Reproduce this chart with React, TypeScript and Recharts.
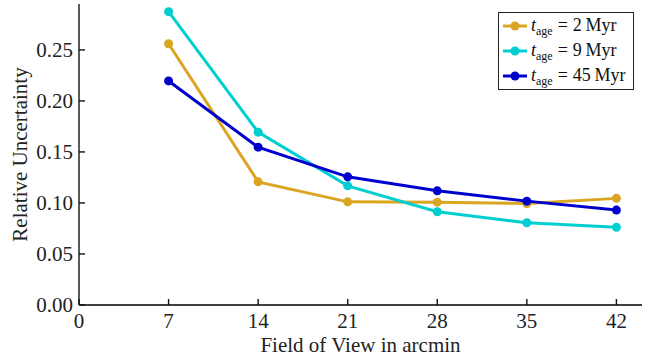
import React from 'react';
import { LineChart, Line, XAxis, YAxis, Legend } from 'recharts';

const fov = [7, 14, 21, 28, 35, 42];
const age2 = [0.256, 0.1207, 0.1011, 0.1008, 0.0995, 0.1045];
const age9 = [0.2875, 0.1694, 0.1168, 0.0914, 0.0806, 0.0761];
const age45 = [0.2196, 0.1547, 0.1256, 0.1119, 0.1018, 0.093];

const xTicks = [0, 7, 14, 21, 28, 35, 42];
const yTicks = [0, 0.05, 0.1, 0.15, 0.2, 0.25];

const seriesInfo = [
  { key: 'age2', age: '2', color: '#DAA520' },
  { key: 'age9', age: '9', color: '#00CED1' },
  { key: 'age45', age: '45', color: '#0000CD' },
];

const data = fov.map((f, i) => ({ fov: f, age2: age2[i], age9: age9[i], age45: age45[i] }));

const FONT = '"Liberation Serif", "DejaVu Serif", serif';
const TICK_LEN = 6;
const TICK_COLOR = '#111';
const TICK_W = 1.4;

const renderLegend = () => (
  <div
    style={{
      border: '1.3px solid #222',
      background: '#fff',
      fontFamily: FONT,
      fontSize: 18,
      color: '#111',
      boxSizing: 'border-box',
      padding: '0 0 1px 4px',
      width: 136,
    }}
  >
    {seriesInfo.map((s) => (
      <div key={s.key} style={{ height: 25, display: 'flex', alignItems: 'center', whiteSpace: 'nowrap' }}>
        <svg width={24} height={12} style={{ flex: 'none' }}>
          <line x1={0} y1={6} x2={24} y2={6} stroke={s.color} strokeWidth={3} />
          <circle cx={12} cy={6} r={4.5} fill={s.color} />
        </svg>
        <span style={{ marginLeft: 4 }}>
          <i>t</i>
          <span style={{ fontSize: 12, position: 'relative', top: 4 }}>age</span>
          <span style={{ margin: '0 5px' }}>=</span>
          <span>{s.age}&thinsp;Myr</span>
        </span>
      </div>
    ))}
  </div>
);

const XTitle = (props: any) => {
  const { viewBox } = props;
  const cx = viewBox.x + viewBox.width / 2;
  return (
    <text x={cx} y={352} textAnchor="middle" fontFamily={FONT} fontSize={21} fill="#222">
      Field of View in arcmin
    </text>
  );
};

const YTitle = (props: any) => {
  const { viewBox } = props;
  const cx = 27;
  const cy = viewBox.y + viewBox.height / 2;
  return (
    <text
      x={cx}
      y={cy}
      transform={`rotate(-90 ${cx} ${cy})`}
      textAnchor="middle"
      fontFamily={FONT}
      fontSize={21}
      fill="#222"
    >
      Relative Uncertainty
    </text>
  );
};

const BottomTick = (props: any) => {
  const { x, y, payload } = props;
  return (
    <g>
      <line x1={x} y1={y} x2={x} y2={y - TICK_LEN} stroke={TICK_COLOR} strokeWidth={TICK_W} />
      <text x={x} y={y + 8} dy="0.71em" textAnchor="middle" fontFamily={FONT} fontSize={21} fill="#222">
        {payload.value}
      </text>
    </g>
  );
};

const TopTick = (props: any) => {
  const { x, y } = props;
  return <line x1={x} y1={y} x2={x} y2={y + TICK_LEN} stroke={TICK_COLOR} strokeWidth={TICK_W} />;
};

const LeftTick = (props: any) => {
  const { x, y, payload } = props;
  return (
    <g>
      <line x1={x} y1={y} x2={x + TICK_LEN} y2={y} stroke={TICK_COLOR} strokeWidth={TICK_W} />
      <text x={x - 6} y={y} dy="0.355em" textAnchor="end" fontFamily={FONT} fontSize={21} fill="#222">
        {Number(payload.value).toFixed(2)}
      </text>
    </g>
  );
};

const RightTick = (props: any) => {
  const { x, y } = props;
  return <line x1={x} y1={y} x2={x - TICK_LEN} y2={y} stroke={TICK_COLOR} strokeWidth={TICK_W} />;
};

export default function App() {
  const axisLineStyle = { stroke: '#000', strokeWidth: 1.3 };
  return (
    <div style={{ position: 'absolute', left: 0, top: 0, width: 662, height: 361, background: '#fff' }}>
      <LineChart width={662} height={361} data={data} margin={{ top: 4, right: 20, bottom: 0, left: 0 }}>
        <XAxis
          xAxisId="bottom"
          dataKey="fov"
          type="number"
          domain={[0, 44]}
          ticks={xTicks}
          height={56}
          tickSize={0}
          tickMargin={0}
          tick={<BottomTick />}
          axisLine={axisLineStyle}
          tickLine={false}
          interval={0}
          label={<XTitle />}
        />
        <XAxis
          xAxisId="top"
          orientation="top"
          dataKey="fov"
          type="number"
          domain={[0, 44]}
          ticks={xTicks}
          height={0}
          tickSize={0}
          tickMargin={0}
          tick={<TopTick />}
          axisLine={axisLineStyle}
          tickLine={false}
          interval={0}
        />
        <YAxis
          yAxisId="left"
          type="number"
          domain={[0, 0.295]}
          ticks={yTicks}
          width={79}
          tickSize={0}
          tickMargin={0}
          tick={<LeftTick />}
          axisLine={axisLineStyle}
          tickLine={false}
          interval={0}
          label={<YTitle />}
        />
        <YAxis
          yAxisId="right"
          orientation="right"
          type="number"
          domain={[0, 0.295]}
          ticks={yTicks}
          width={0}
          tickSize={0}
          tickMargin={0}
          tick={<RightTick />}
          axisLine={axisLineStyle}
          tickLine={false}
          interval={0}
        />
        <Legend
          layout="horizontal"
          verticalAlign="middle"
          align="center"
          content={renderLegend}
          wrapperStyle={{ position: 'absolute', left: 498, top: 12, width: 136 }}
        />
        {seriesInfo.map((s) => (
          <Line
            key={s.key}
            xAxisId="bottom"
            yAxisId="left"
            type="linear"
            dataKey={s.key}
            stroke={s.color}
            strokeWidth={3}
            dot={{ r: 4.5, fill: s.color, stroke: s.color, strokeWidth: 0 }}
            isAnimationActive={false}
          />
        ))}
      </LineChart>
    </div>
  );
}
